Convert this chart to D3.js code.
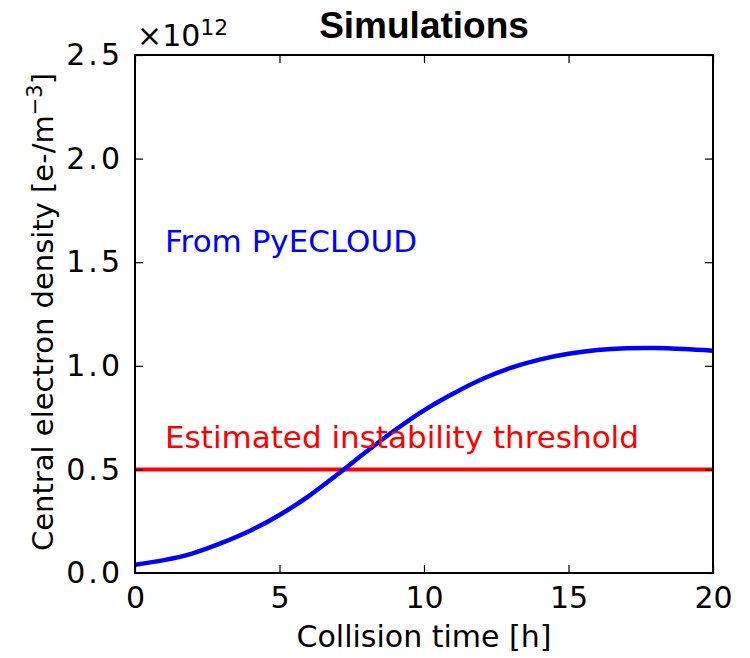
<!DOCTYPE html>
<html>
<head>
<meta charset="utf-8">
<script src="https://cdn.jsdelivr.net/npm/d3@7"></script>
<style>
body { margin: 0; background: #fff; }
text { font-family: "DejaVu Sans", sans-serif; }
</style>
</head>
<body>
<div id="chart"></div>
<script>
// collision time [h] and central density [1e12 e-/m^3]
var hours = [0, 1, 2, 3, 4, 5, 6, 7, 8, 9, 10, 11, 12, 13, 14, 15, 16, 17, 18, 19, 20];
var density = [0.04, 0.062, 0.095, 0.145, 0.205, 0.28, 0.37, 0.475, 0.585, 0.69, 0.785, 0.865, 0.935, 0.99, 1.03, 1.058, 1.076, 1.085, 1.086, 1.081, 1.073];
var threshold = 0.5;
var xTicks = [0, 5, 10, 15, 20];
var yTicks = [0, 0.5, 1.0, 1.5, 2.0, 2.5];

var svg = d3.select("#chart")
    .append("svg")
    .attr("width", 750)
    .attr("height", 658);

var plotLeft = 135, plotRight = 713, plotTop = 55, plotBottom = 573;

var x = d3.scaleLinear().domain([0, 20]).range([plotLeft, plotRight]);
var y = d3.scaleLinear().domain([0, 2.5]).range([plotBottom, plotTop]);

svg.append("clipPath").attr("id", "clip")
    .append("rect")
    .attr("x", plotLeft).attr("y", plotTop)
    .attr("width", plotRight - plotLeft).attr("height", plotBottom - plotTop);

var plot = svg.append("g").attr("clip-path", "url(#clip)");

plot.append("line")
    .attr("x1", x(0)).attr("x2", x(20))
    .attr("y1", y(threshold)).attr("y2", y(threshold))
    .attr("stroke", "#ff0000")
    .attr("stroke-width", 4);

var line = d3.line()
    .curve(d3.curveCatmullRom)
    .x(function(d, i) { return x(hours[i]); })
    .y(function(d) { return y(d); });

plot.append("path")
    .datum(density)
    .attr("d", line)
    .attr("fill", "none")
    .attr("stroke", "#0000ff")
    .attr("stroke-width", 4.5);

// axes, ticks pointing inward
var axisStyle = function(g) {
    g.select(".domain").remove();
    g.selectAll(".tick line").attr("stroke", "#000").attr("stroke-width", 1.2);
    g.selectAll(".tick text").attr("font-size", 30).attr("fill", "#000")
        .attr("font-family", "DejaVu Sans");
};

svg.append("g")
    .attr("transform", "translate(0," + plotBottom + ")")
    .call(d3.axisBottom(x).tickValues(xTicks).tickSize(-8).tickPadding(12).tickFormat(d3.format("d")))
    .call(axisStyle)
    .selectAll(".tick text").attr("dy", "0.75em");

svg.append("g")
    .attr("transform", "translate(0," + plotTop + ")")
    .call(d3.axisTop(x).tickValues(xTicks).tickSize(-8).tickFormat(""))
    .call(axisStyle);

svg.append("g")
    .attr("transform", "translate(" + plotLeft + ",0)")
    .call(d3.axisLeft(y).tickValues(yTicks).tickSize(-8).tickPadding(12).tickFormat(d3.format(".1f")))
    .call(axisStyle)
    .selectAll(".tick text").attr("letter-spacing", 3);

svg.append("g")
    .attr("transform", "translate(" + plotRight + ",0)")
    .call(d3.axisRight(y).tickValues(yTicks).tickSize(-8).tickFormat(""))
    .call(axisStyle);

svg.append("rect")
    .attr("x", plotLeft).attr("y", plotTop)
    .attr("width", plotRight - plotLeft).attr("height", plotBottom - plotTop)
    .attr("fill", "none")
    .attr("stroke", "#000")
    .attr("stroke-width", 2);

// multiplier
var mult = svg.append("text")
    .attr("x", plotLeft + 2).attr("y", 46)
    .attr("font-size", 30);
mult.append("tspan").text("\u00d710");
mult.append("tspan").attr("dy", -11).attr("font-size", 22).text("12");

svg.append("text")
    .attr("x", 424).attr("y", 38)
    .attr("text-anchor", "middle")
    .style("font-family", "Liberation Sans, Arial, sans-serif")
    .attr("font-weight", "bold")
    .attr("font-size", 37)
    .text("Simulations");

svg.append("text")
    .attr("x", 424).attr("y", 647)
    .attr("text-anchor", "middle")
    .attr("font-size", 30)
    .text("Collision time [h]");

var ylab = svg.append("text")
    .attr("transform", "translate(53,312) rotate(-90)")
    .attr("text-anchor", "middle")
    .attr("font-size", 29);
ylab.append("tspan").text("Central electron density [e-/m");
ylab.append("tspan").attr("dy", -11).attr("font-size", 21).text("\u22123");
ylab.append("tspan").attr("dy", 11).text("]");

svg.append("text")
    .attr("x", 165).attr("y", 252)
    .attr("font-size", 31)
    .attr("fill", "#0000ff")
    .text("From PyECLOUD");

svg.append("text")
    .attr("x", 165).attr("y", 448)
    .attr("font-size", 31)
    .attr("fill", "#ff0000")
    .text("Estimated instability threshold");
</script>
</body>
</html>
